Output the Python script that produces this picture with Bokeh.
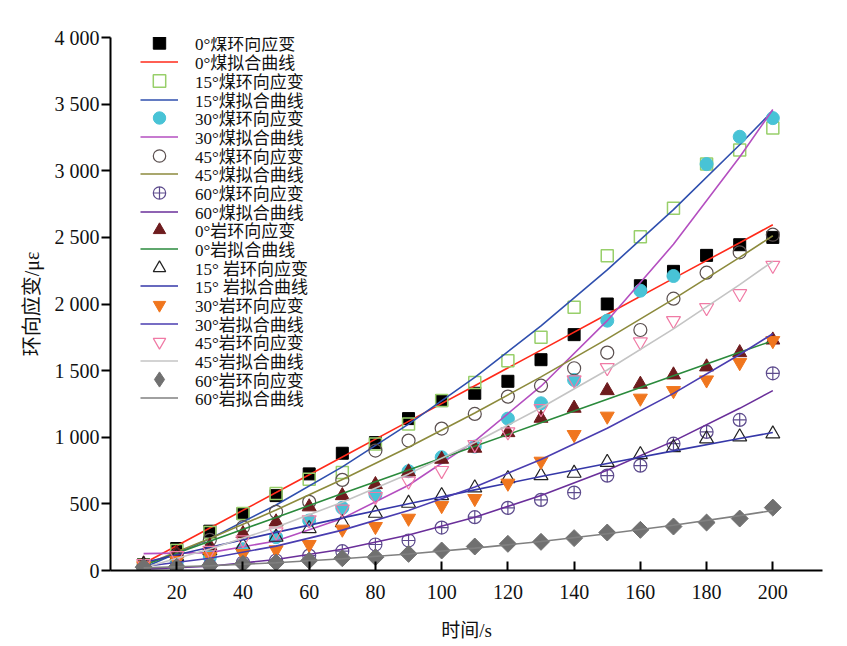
from bokeh.plotting import figure
from bokeh.models import FixedTicker, Legend, LegendItem, Range1d
from bokeh.embed import file_html
from bokeh.resources import INLINE
import numpy as np

# ---- data ----
t = [10, 20, 30, 40, 50, 60, 70, 80, 90, 100, 110, 120, 130, 140, 150, 160, 170, 180, 190, 200]
coal0 = [45, 165, 295, 427, 562, 725, 880, 960, 1140, 1275, 1330, 1420, 1582, 1770, 2000, 2137, 2245, 2365, 2445, 2500]
coal15 = [40, 150, 285, 427, 577, 685, 735, 950, 1100, 1275, 1410, 1575, 1750, 1975, 2362, 2505, 2718, 3050, 3155, 3320]
coal30 = [30, 60, 100, 160, 250, 375, 470, 570, 745, 850, 930, 1140, 1255, 1430, 1875, 2100, 2210, 3050, 3255, 3395]
coal45 = [37, 115, 230, 325, 440, 515, 680, 900, 975, 1065, 1175, 1305, 1387, 1518, 1635, 1805, 2040, 2235, 2388, 2520]
coal60 = [15, 22, 37, 60, 75, 112, 145, 195, 225, 322, 400, 470, 530, 585, 712, 787, 952, 1040, 1130, 1480]
rock0 = [50, 130, 185, 277, 365, 478, 562, 645, 740, 835, 918, 1035, 1143, 1218, 1350, 1398, 1468, 1528, 1635, 1730]
rock15 = [45, 105, 150, 187, 250, 315, 360, 430, 505, 562, 620, 690, 712, 730, 812, 870, 922, 988, 1003, 1025]
rock30 = [35, 75, 105, 127, 155, 195, 310, 330, 392, 487, 540, 655, 820, 1020, 1158, 1293, 1350, 1430, 1560, 1725]
rock45 = [52, 112, 150, 230, 290, 380, 460, 555, 670, 750, 945, 1040, 1215, 1430, 1522, 1715, 1875, 1972, 2077, 2290]
rock60 = [25, 28, 37, 50, 60, 75, 92, 100, 125, 150, 180, 200, 215, 243, 285, 305, 330, 360, 390, 472]

# fitted curves
tf = [10, 30, 50, 70, 90, 110, 130, 150, 170, 190, 200]
fit_coal0 = [52, 319, 585, 852, 1119, 1387, 1654, 1923, 2192, 2460, 2595]
fit_coal15 = [20, 239, 492, 778, 1098, 1450, 1836, 2256, 2708, 3195, 3450]
fit_coal30 = [127, 134, 222, 391, 640, 971, 1383, 1875, 2448, 3103, 3460]
fit_coal45 = [40, 240, 454, 683, 925, 1182, 1453, 1738, 2037, 2350, 2512]
fit_coal60 = [10, 32, 82, 160, 267, 400, 563, 753, 971, 1217, 1350]
fit_rock0 = [40, 219, 398, 577, 754, 932, 1109, 1286, 1462, 1637, 1725]
fit_rock15 = [60, 175, 286, 395, 501, 605, 705, 803, 898, 990, 1035]
fit_rock30 = [30, 92, 183, 303, 451, 627, 833, 1067, 1329, 1621, 1777]
fit_rock45 = [21, 161, 325, 513, 725, 961, 1221, 1505, 1813, 2145, 2320]
fit_rock60 = [20, 36, 58, 88, 124, 168, 218, 276, 340, 412, 450]

labels = ["0°煤环向应变", "0°煤拟合曲线", "15°煤环向应变", "15°煤拟合曲线",
          "30°煤环向应变", "30°煤拟合曲线", "45°煤环向应变", "45°煤拟合曲线",
          "60°煤环向应变", "60°煤拟合曲线", "0°岩环向应变", "0°岩拟合曲线",
          "15° 岩环向应变", "15° 岩拟合曲线", "30°岩环向应变", "30°岩拟合曲线",
          "45°岩环向应变", "45°岩拟合曲线", "60°岩环向应变", "60°岩拟合曲线"]

y_ticks = [0, 500, 1000, 1500, 2000, 2500, 3000, 3500, 4000]
y_tick_labels = ["0", "500", "1 000", "1 500", "2 000", "2 500", "3 000", "3 500", "4 000"]
x_ticks = [20, 40, 60, 80, 100, 120, 140, 160, 180, 200]

FONT = "'Liberation Serif', 'Noto Sans CJK SC', serif"

W, H = 845, 644
FRAME_BOTTOM = 570
p = figure(width=W, height=H, x_range=Range1d(0, 215), y_range=Range1d(0, 4000),
           output_backend="svg", toolbar_location=None,
           min_border_left=110, min_border_right=W - 822, min_border_top=37,
           min_border_bottom=H - FRAME_BOTTOM)
p.background_fill_color = "white"
p.border_fill_color = "white"
p.outline_line_color = None
p.grid.visible = False

p.yaxis.ticker = FixedTicker(ticks=y_ticks)
p.yaxis.major_label_overrides = {v: s for v, s in zip(y_ticks, y_tick_labels)}
p.xaxis.ticker = FixedTicker(ticks=x_ticks)
for ax in (p.xaxis, p.yaxis):
    ax.axis_line_width = 2
    ax.axis_line_color = "black"
    ax.major_tick_line_width = 2
    ax.minor_tick_line_color = None
    ax.major_label_text_font = FONT
    ax.major_label_text_font_size = "20px"
    ax.major_label_text_color = "#111111"
    ax.axis_label_text_font = FONT
    ax.axis_label_text_font_style = "normal"
    ax.axis_label_text_color = "#111111"
p.xaxis.axis_label_text_font_size = "19px"
p.yaxis.axis_label_text_font_size = "20px"
p.xaxis.major_tick_in = 9
p.xaxis.major_tick_out = 0
p.yaxis.major_tick_in = 0
p.yaxis.major_tick_out = 9
p.xaxis.major_label_standoff = 14
p.yaxis.major_label_standoff = 2
p.xaxis.axis_label = "时间/s"
p.yaxis.axis_label = "环向应变/με"
p.xaxis.axis_label_standoff = 18
p.yaxis.axis_label_standoff = 9

series = [
    (coal0, fit_coal0, dict(marker="square", size=12, fill_color="black", line_color="black"), "#ff2a1a"),
    (coal15, fit_coal15, dict(marker="square", size=12, fill_color=None, line_color="#98cf6a", line_width=1.5), "#2f4fae"),
    (coal30, fit_coal30, dict(marker="circle", size=13, fill_color="#48c3d6", line_color="#48c3d6"), "#b44fc0"),
    (coal45, fit_coal45, dict(marker="circle", size=13, fill_color=None, line_color="#5a4f4f", line_width=1.2), "#8c8a3c"),
    (coal60, fit_coal60, dict(marker="circle_cross", size=13, fill_color=None, line_color="#5d4b8d", line_width=1.2), "#6a2f9a"),
    (rock0, fit_rock0, dict(marker="triangle", size=14, fill_color="#6e1c1e", line_color="#6e1c1e"), "#2a8a3c"),
    (rock15, fit_rock15, dict(marker="triangle", size=14, fill_color=None, line_color="#222222", line_width=1.2), "#3537a8"),
    (rock30, fit_rock30, dict(marker="inverted_triangle", size=14, fill_color="#f0761e", line_color="#f0761e"), "#4a3db0"),
    (rock45, fit_rock45, dict(marker="inverted_triangle", size=14, fill_color=None, line_color="#f07aa5", line_width=1.2), "#c4c4c4"),
    (rock60, fit_rock60, dict(marker="square", size=12, angle=np.pi / 4, fill_color="#707070", line_color="#707070"), "#808080"),
]

entries = []  # (renderer, label, glyph box height)
for i, (yv, fv, mk, lc) in enumerate(series):
    sr = p.scatter(t, yv, **mk)
    lr = p.line(tf, fv, line_color=lc, line_width=1.6)
    if i == 9:
        # legend-only glyph (zero size in the plot): an upright diamond for the key
        dr = p.scatter(t, yv, marker="diamond", size=0, fill_color="#707070", line_color="#707070")
        entries.append((dr, labels[2 * i], 40))
    else:
        entries.append((sr, labels[2 * i], 31))
    entries.append((lr, labels[2 * i + 1], 31))

# one single-row legend per entry, stacked at the reference row pitch
ROW0, PITCH = 43, 18.68
for k, (r, lab, gh) in enumerate(entries):
    center = ROW0 + PITCH * k
    bottom = center + gh / 2
    lg = Legend(items=[LegendItem(label=lab, renderers=[r])],
                location=(30, int(round(FRAME_BOTTOM - bottom))))
    lg.background_fill_alpha = 0
    lg.border_line_alpha = 0
    lg.padding = 0
    lg.margin = 0
    lg.spacing = 0
    lg.glyph_height = gh
    lg.label_height = 17
    lg.glyph_width = 38
    lg.label_standoff = 17
    lg.label_text_font = FONT
    lg.label_text_font_size = "17px"
    lg.label_text_color = "#111111"
    p.add_layout(lg)

open("out.html", "w").write(file_html(p, INLINE))
